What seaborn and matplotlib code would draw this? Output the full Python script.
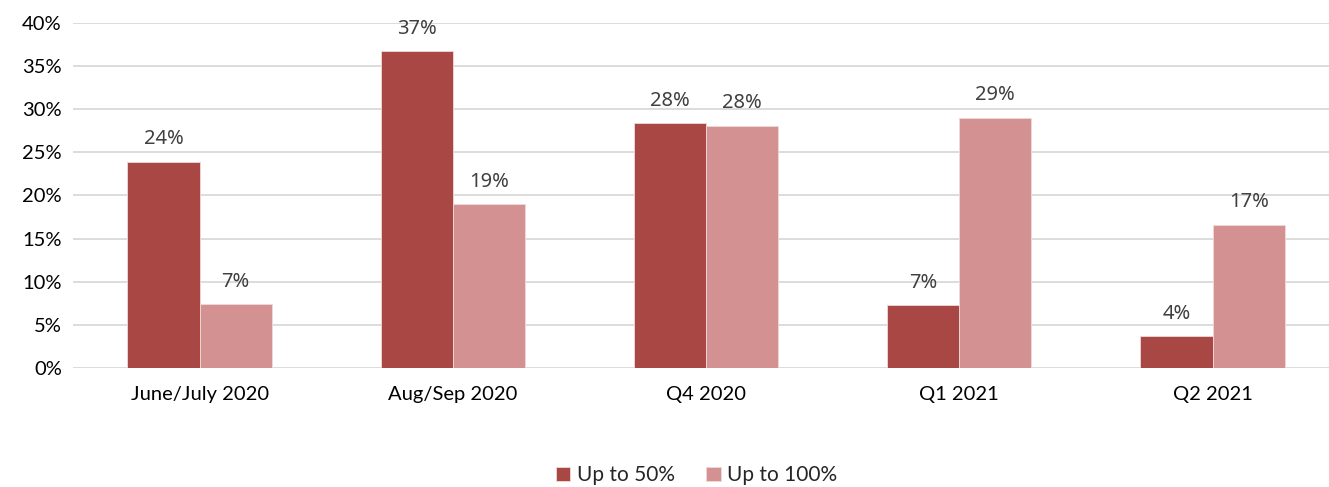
import pandas as pd
import matplotlib.pyplot as plt
import seaborn as sns
from matplotlib.ticker import PercentFormatter

periods = ["June/July 2020", "Aug/Sep 2020", "Q4 2020", "Q1 2021", "Q2 2021"]
up_to_50 = [23.9, 36.75, 28.4, 7.3, 3.7]
up_to_100 = [7.4, 19.0, 28.1, 29.0, 16.6]
series_names = ["Up to 50%", "Up to 100%"]
colors = ["#A94744", "#D39191"]

df = pd.DataFrame({
    "period": periods * 2,
    "series": [series_names[0]] * len(periods) + [series_names[1]] * len(periods),
    "value": up_to_50 + up_to_100,
})

sns.set_style("white")
plt.rcParams["font.family"] = ["Lato", "DejaVu Sans"]

fig = plt.figure(figsize=(13.29, 4.87), dpi=100)
ax = fig.add_axes([0.0549, 0.2444, 0.9451, 0.7084])

sns.barplot(data=df, x="period", y="value", hue="series", palette=colors,
            width=0.57, saturation=1, errorbar=None, ax=ax,
            edgecolor="#f0dada", linewidth=0.6, zorder=3)

# Datové popisky
for container in ax.containers:
    for bar in container:
        h = bar.get_height()
        ax.annotate(f"{h:.0f}%", (bar.get_x() + bar.get_width() / 2, h),
                    xytext=(0, 9), textcoords="offset points",
                    ha="center", va="bottom", fontsize=14.5,
                    color="#404040", family=["Noto Sans", "DejaVu Sans"])

ax.set_ylim(0, 40)
ax.set_xlim(-0.5, 4.46)
ax.set_yticks(range(0, 41, 5))
ax.yaxis.set_major_formatter(PercentFormatter(decimals=0))
ax.grid(axis="y", color="#d9d9d9", linewidth=1.3, zorder=0)
ax.set_axisbelow(True)
for s in ax.spines.values():
    s.set_visible(False)
ax.tick_params(axis="both", length=0, labelsize=14.5, colors="black", pad=8)
ax.tick_params(axis="x", pad=13)
ax.set_xlabel("")
ax.set_ylabel("")

handles, labels = ax.get_legend_handles_labels()
ax.get_legend().remove()
fig.legend(handles, labels, loc="center", bbox_to_anchor=(0.524, 0.024), ncol=2,
           frameon=False, fontsize=15, handlelength=0.7, handleheight=0.7,
           handletextpad=0.3, columnspacing=1.5)

fig.savefig("out.png", dpi=100)
plt.close(fig)
